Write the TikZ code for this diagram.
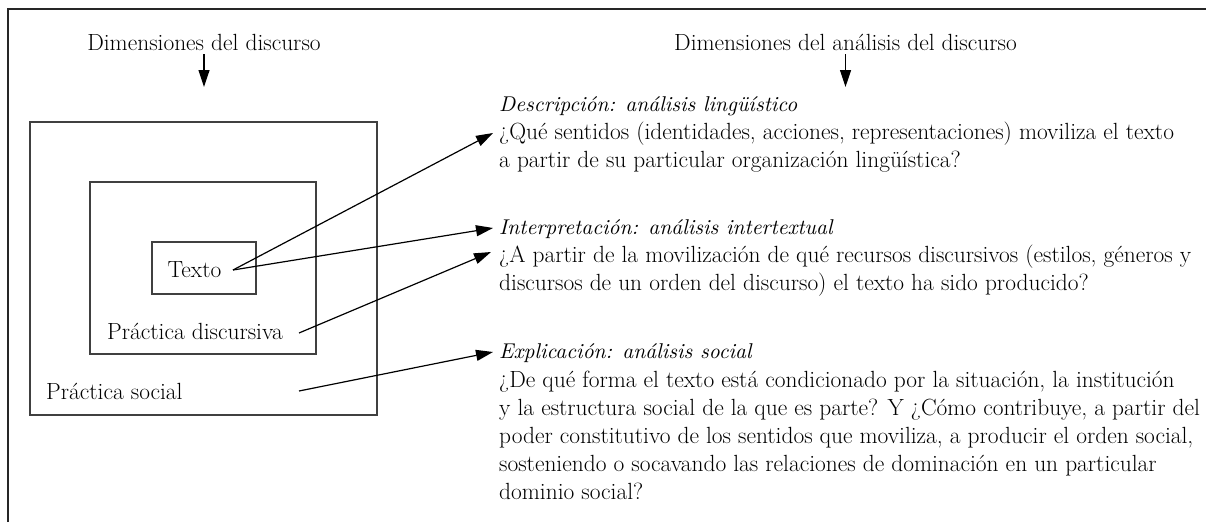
\documentclass[tikz,border=0pt]{standalone}
\usepackage{fontspec}
\setmainfont{Latin Modern Roman}
\newfontfamily\lmit{lmroman10-italic.otf}
\usetikzlibrary{arrows.meta}
\begin{document}
\begin{tikzpicture}[x=1pt,y=-1pt,
  txt/.style={inner sep=0pt, font=\fontsize{23.4}{29}\selectfont},
  itx/.style={inner sep=0pt, font=\lmit\fontsize{21.4pt}{29pt}\selectfont},
  boxst/.style={draw=black!75, line width=1.3pt, inner sep=0pt},
  frame/.style={draw=black!85, line width=2.6pt},
  arr/.style={draw=black, line width=1.2pt, -{Triangle[length=17pt,width=11pt]}}]
\useasboundingbox (0,0) rectangle (1206,522);
\draw[frame] (8,522) -- (8,9) -- (1206,9);
% boxes
\node[boxst, minimum width=347pt, minimum height=293pt] (social) at (203.5,268.5) {};
\node[boxst, minimum width=226pt, minimum height=172pt] (disc) at (203,268) {};
\node[boxst, minimum width=104pt, minimum height=52pt] (textbox) at (204,268) {};
% left labels
\node[txt, anchor=base] (texto) at (194.5,277) {Texto};
\node[txt, anchor=base west] (pdisc) at (107,339) {Práctica discursiva};
\node[txt, anchor=base west] (psoc) at (46,399) {Práctica social};
% headings
\node[txt, anchor=base] (hl) at (204,50) {Dimensiones del discurso};
\node[txt, anchor=base] (hr) at (845.5,50) {Dimensiones del análisis del discurso};
\coordinate (dl) at (204,87);
\coordinate (dr) at (845.5,87);
\draw[arr] ([yshift=-4pt]hl.south) -- (dl);
\draw[arr] ([yshift=-4pt]hr.south) -- (dr);
% right text
\node[itx, anchor=base west] (h1) at (499,111) {Descripción: análisis lingüístico};
\node[txt, anchor=base west] (a1) at (499,139) {¿Qué sentidos (identidades, acciones, representaciones) moviliza el texto};
\node[txt, anchor=base west] (a2) at (499,167) {a partir de su particular organización lingüística?};
\node[itx, anchor=base west] (h2) at (499,234) {Interpretación: análisis intertextual};
\node[txt, anchor=base west] (b1) at (499,262) {¿A partir de la movilización de qué recursos discursivos (estilos, géneros y};
\node[txt, anchor=base west] (b2) at (499,290) {discursos de un orden del discurso) el texto ha sido producido?};
\node[itx, anchor=base west] (h3) at (499,358) {Explicación: análisis social};
\node[txt, anchor=base west] (c1) at (499,387) {¿De qué forma el texto está condicionado por la situación, la institución};
\node[txt, anchor=base west] (c2) at (499,415) {y la estructura social de la que es parte? Y ¿Cómo contribuye, a partir del};
\node[txt, anchor=base west] (c3) at (499,443) {poder constitutivo de los sentidos que moviliza, a producir el orden social,};
\node[txt, anchor=base west] (c4) at (499,471) {sosteniendo o socavando las relaciones de dominación en un particular};
\node[txt, anchor=base west] (c5) at (499,499) {dominio social?};
% connectors
\coordinate (s1) at (233,270);
\coordinate (s3) at (299,333);
\coordinate (s4) at (299,391);
\draw[arr] (s1) -- ([xshift=-6pt,yshift=6pt]a1.base west);
\draw[arr] (s1) -- ([xshift=-6pt,yshift=6pt]h2.base west);
\draw[arr] (s3) -- ([xshift=-8pt,yshift=10pt]b1.base west);
\draw[arr] (s4) -- ([xshift=-6pt,yshift=6pt]h3.base west);
\end{tikzpicture}
\end{document}
